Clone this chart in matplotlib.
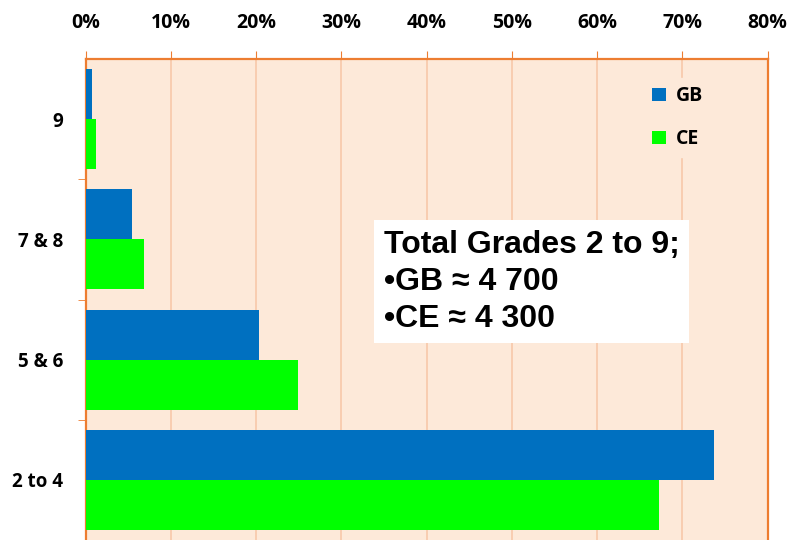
import numpy as np
import matplotlib
matplotlib.use("Agg")
from matplotlib import pyplot as plt

# data
categories = ["9", "7 & 8", "5 & 6", "2 to 4"]
gb = [0.8, 5.4, 20.3, 73.7]
ce = [1.2, 6.9, 24.9, 67.3]
x_ticks = [0, 10, 20, 30, 40, 50, 60, 70, 80]

orange = "#ED7D31"
grid_c = "#F8CBAD"
bg = "#FDE9D9"

plt.rcParams["font.family"] = ["Open Sans", "DejaVu Sans"]

fig = plt.figure(figsize=(7.94, 5.40), dpi=100)
ax = fig.add_axes([0.1077, 0.0, 0.8592, 0.8907])
ax.set_facecolor(bg)

y = np.arange(len(categories))
h = 0.4167
ax.barh(y - h / 2, gb, height=h, color="#0070C0", label="GB", zorder=3)
ax.barh(y + h / 2, ce, height=h, color="#00FF00", label="CE", zorder=3)

ax.set_xlim(0, 80)
ax.set_ylim(3.5, -0.5)

# x axis on top
ax.xaxis.tick_top()
ax.set_xticks(x_ticks)
ax.set_xticklabels([f"{t}%" for t in x_ticks], fontsize=14, fontweight="bold")
ax.tick_params(axis="x", direction="out", length=6, color=orange, pad=13)
ax.grid(axis="x", color=grid_c, linewidth=1.3, zorder=0)

ax.set_yticks(y)
ax.set_yticklabels(categories, fontsize=13.5, fontweight="bold")
ax.tick_params(axis="y", which="major", length=0, pad=16)
ax.set_yticks([0.5, 1.5, 2.5], minor=True)
ax.tick_params(axis="y", which="minor", direction="out", length=6, color=orange)

for s in ["top", "right", "left"]:
    ax.spines[s].set_color(orange)
    ax.spines[s].set_linewidth(1.6)
ax.spines["bottom"].set_visible(False)

leg = ax.legend(loc="upper left", bbox_to_anchor=(0.805, 0.98), frameon=True,
                facecolor=bg, edgecolor=bg, framealpha=1,
                handlelength=0.7, handleheight=0.7, labelspacing=1.2,
                handletextpad=0.5,
                prop={"weight": "bold", "size": 14})
leg.set_zorder(4)

ax.text(0.4375, 0.645,
        "Total Grades 2 to 9;\n\u2022GB \u2248 4 700\n\u2022CE \u2248 4 300",
        transform=ax.transAxes, fontsize=23, fontweight="bold",
        family=["Liberation Sans", "DejaVu Sans"], va="top", ha="left",
        linespacing=1.3, zorder=5,
        bbox=dict(boxstyle="square,pad=0.3", facecolor="white", edgecolor="none"))

plt.savefig("out.png", dpi=100)
